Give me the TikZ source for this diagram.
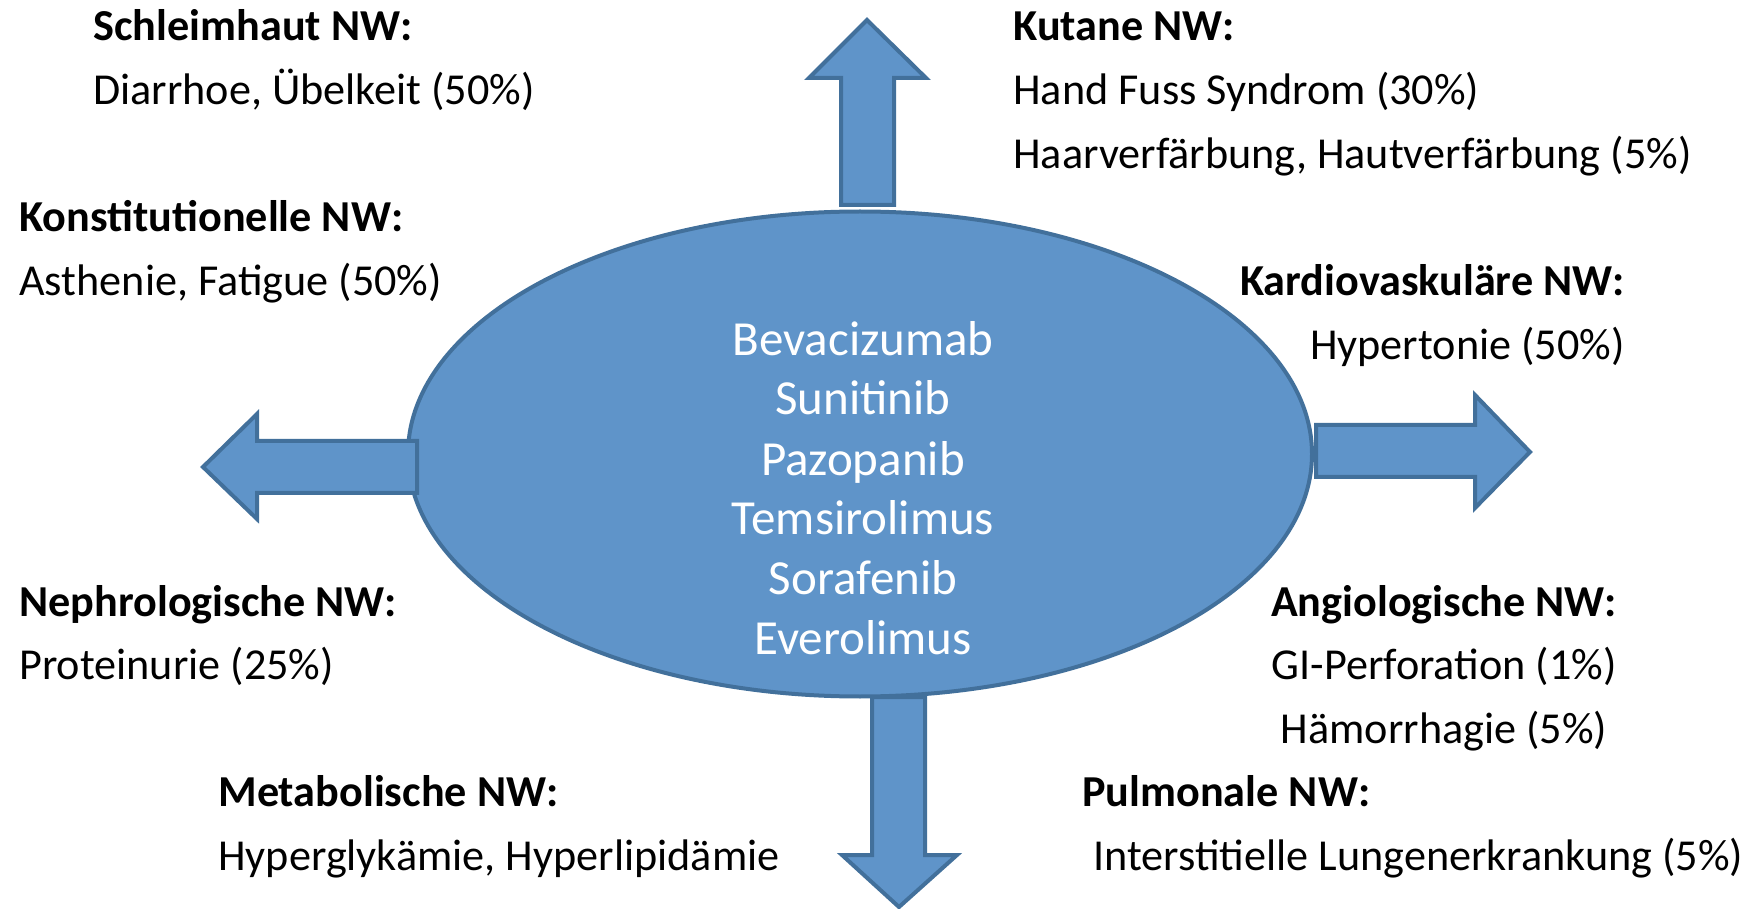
\documentclass[tikz,border=0pt]{standalone}
\usepackage{fontspec}
\setmainfont{Carlito}
\usetikzlibrary{shapes.geometric}
\definecolor{bfill}{RGB}{95,148,201}
\definecolor{bdraw}{RGB}{66,112,155}
\tikzset{
  blueshape/.style={fill=bfill, draw=bdraw, line width=2pt, line join=miter},
  hd/.style={anchor=base west, inner sep=0pt, font=\fontsize{22.1}{26}\selectfont\bfseries},
  tx/.style={anchor=base west, inner sep=0pt, font=\fontsize{22.1}{26}\selectfont},
  hdr/.style={hd, anchor=base east},
  txr/.style={tx, anchor=base east},
  hdc/.style={hd, anchor=base},
  txc/.style={tx, anchor=base},
  drug/.style={anchor=base, inner sep=0pt, text=white, font=\fontsize{24.5}{28}\selectfont}
}
\begin{document}
\begin{tikzpicture}[x=0.5pt, y=-0.5pt]
\useasboundingbox (0,0) rectangle (1753,909);
% arrows up / down behind the ellipse
\draw[blueshape] (867,20) -- (926,78) -- (894,78) -- (894,205) -- (841,205) -- (841,78) -- (809,78) -- cycle;
\draw[blueshape] (899,907) -- (957,855) -- (925,855) -- (925,697) -- (872,697) -- (872,855) -- (842,855) -- cycle;
% ellipse
\node[blueshape, ellipse, minimum width=452pt, minimum height=242.5pt, inner sep=0pt] (core) at (860,454) {};
% side arrows
\draw[blueshape] (203,467) -- (257,414) -- (257,441) -- (417,441) -- (417,493) -- (257,493) -- (257,519) -- cycle;
\draw[blueshape] (1530,452) -- (1475,395) -- (1475,425) -- (1316,425) -- (1316,477) -- (1475,477) -- (1475,508) -- cycle;
% drugs
\node[drug] (d1) at (863,356) {Bevacizumab};
\node[drug] (d2) at (863,415) {Sunitinib};
\node[drug] (d3) at (863,475) {Pazopanib};
\node[drug] (d4) at (863,534) {Temsirolimus};
\node[drug] (d5) at (863,594) {Sorafenib};
\node[drug] (d6) at (863,654) {Everolimus};
% left column
\node[hd] (sh) at (93,41) {Schleimhaut NW:};
\node[tx] (sh1) at (93,105) {Diarrhoe, Übelkeit (50\%)};
\node[hd] (ko) at (19,232) {Konstitutionelle NW:};
\node[tx] (ko1) at (19,296) {Asthenie, Fatigue (50\%)};
\node[hd] (ne) at (19,616) {Nephrologische NW:};
\node[tx] (ne1) at (19,679) {Proteinurie (25\%)};
\node[hd] (me) at (218,806) {Metabolische NW:};
\node[tx] (me1) at (218,870) {Hyperglykämie, Hyperlipidämie};
% right column
\node[hd] (ku) at (1013,41) {Kutane NW:};
\node[tx] (ku1) at (1013,105) {Hand Fuss Syndrom (30\%)};
\node[tx] (ku2) at (1013,169) {Haarverfärbung, Hautverfärbung (5\%)};
\node[hdr] (ka) at (1625,296) {Kardiovaskuläre NW:};
\node[txr] (ka1) at (1625,360) {Hypertonie (50\%)};
\node[hdc] (an) at (1444,616) {Angiologische NW:};
\node[txc] (an1) at (1444,679) {GI-Perforation (1\%)};
\node[txc] (an2) at (1444,743) {Hämorrhagie (5\%)};
\node[hd] (pu) at (1082,806) {Pulmonale NW:};
\node[tx] (pu1) at (1093,870) {Interstitielle Lungenerkrankung (5\%)};
\end{tikzpicture}
\end{document}
